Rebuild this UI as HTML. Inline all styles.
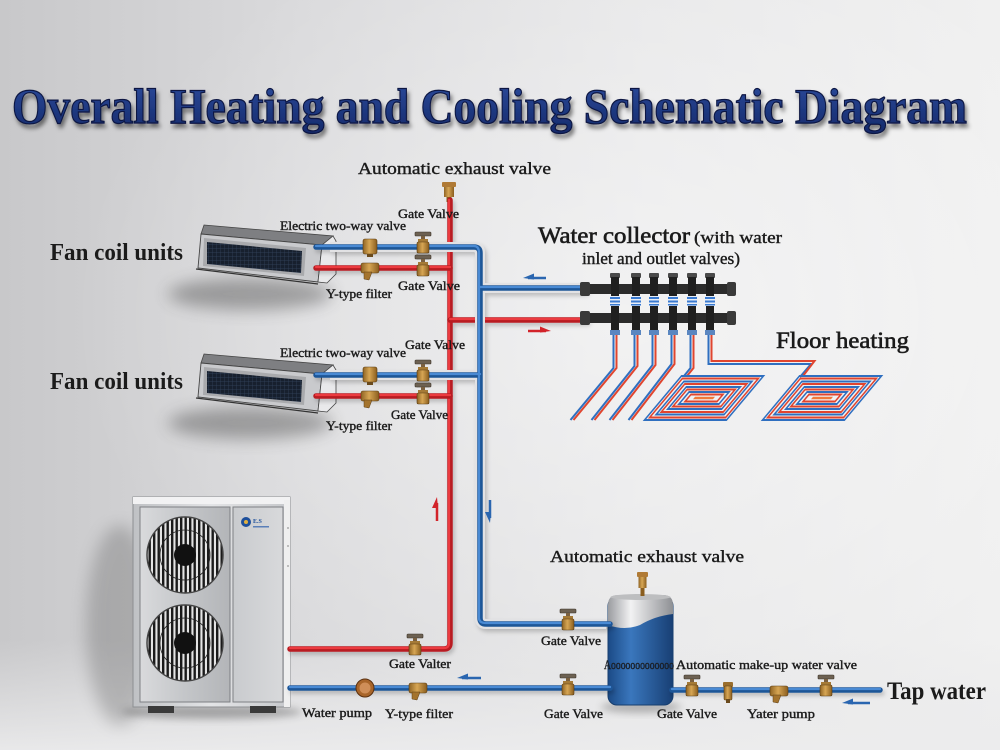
<!DOCTYPE html>
<html><head><meta charset="utf-8"><style>
html,body{margin:0;padding:0;width:1000px;height:750px;overflow:hidden;background:#e3e3e5}
svg{display:block}
text{font-family:"Liberation Serif",serif;fill:#1b1b1b}
.s{font-size:13px;stroke:#1b1b1b;stroke-width:0.4}
.m{font-size:17px;stroke:#1b1b1b;stroke-width:0.4}
.b{font-size:24px;font-weight:bold}
.ro{fill:none;stroke:#b81b21;stroke-width:5.5;stroke-linecap:round;stroke-linejoin:round}
.ri{fill:none;stroke:#ec3a3f;stroke-width:2.2;stroke-linecap:round;stroke-linejoin:round}
.bh{fill:none;stroke:#e2e2e4;stroke-width:10;stroke-linejoin:round}
.bo{fill:none;stroke:#1f5697;stroke-width:5.5;stroke-linecap:round;stroke-linejoin:round}
.bi{fill:none;stroke:#4a8ad4;stroke-width:2.2;stroke-linecap:round;stroke-linejoin:round}
.fb{fill:none;stroke:#2f6fc0;stroke-width:2}
.fr{fill:none;stroke:#e0452f;stroke-width:2}
</style></head><body>
<svg width="1000" height="750" viewBox="0 0 1000 750" xmlns="http://www.w3.org/2000/svg">
<defs>
 <linearGradient id="bg" x1="0" y1="0" x2="1" y2="0">
  <stop offset="0" stop-color="#c8c8ca"/>
  <stop offset="0.3" stop-color="#dadadc"/>
  <stop offset="0.65" stop-color="#e8e8e9"/>
  <stop offset="1" stop-color="#f0f0f0"/>
 </linearGradient>
 <radialGradient id="glow" cx="0.62" cy="0.42" r="0.55">
  <stop offset="0" stop-color="#fff" stop-opacity="0.45"/>
  <stop offset="1" stop-color="#fff" stop-opacity="0"/>
 </radialGradient>
 <linearGradient id="floor" x1="0" y1="0" x2="0" y2="1">
  <stop offset="0" stop-color="#e8e8e9" stop-opacity="0"/>
  <stop offset="1" stop-color="#ececed" stop-opacity="0.9"/>
 </linearGradient>
 <filter id="blur8" x="-50%" y="-50%" width="200%" height="200%"><feGaussianBlur stdDeviation="8"/></filter>
 <filter id="blur4" x="-50%" y="-50%" width="200%" height="200%"><feGaussianBlur stdDeviation="4"/></filter>
 <filter id="psh" x="-5%" y="-5%" width="110%" height="110%"><feDropShadow dx="2" dy="3" stdDeviation="2" flood-color="#000" flood-opacity="0.2"/></filter>
 <filter id="tsh" x="-2%" y="-30%" width="104%" height="160%"><feDropShadow dx="2" dy="4" stdDeviation="2" flood-color="#000" flood-opacity="0.5"/></filter>
 <linearGradient id="title" x1="0" y1="0" x2="0" y2="1">
  <stop offset="0" stop-color="#2d4d9e"/>
  <stop offset="1" stop-color="#14296a"/>
 </linearGradient>
 <linearGradient id="brass" x1="0" y1="0" x2="1" y2="0">
  <stop offset="0" stop-color="#8f6424"/>
  <stop offset="0.45" stop-color="#d7a654"/>
  <stop offset="1" stop-color="#8a5d1e"/>
 </linearGradient>
 <linearGradient id="hp" x1="0" y1="0" x2="1" y2="0">
  <stop offset="0" stop-color="#bfc1c4"/>
  <stop offset="0.5" stop-color="#e3e4e6"/>
  <stop offset="1" stop-color="#c6c8cb"/>
 </linearGradient>
 <linearGradient id="hpL" x1="0" y1="0" x2="1" y2="0">
  <stop offset="0" stop-color="#d9dadc"/>
  <stop offset="0.5" stop-color="#c4c6c9"/>
  <stop offset="1" stop-color="#b3b5b8"/>
 </linearGradient>
 <linearGradient id="hpR" x1="0" y1="0" x2="1" y2="0">
  <stop offset="0" stop-color="#c9cbce"/>
  <stop offset="1" stop-color="#d8d9db"/>
 </linearGradient>
 <linearGradient id="tankB" x1="0" y1="0" x2="1" y2="0">
  <stop offset="0" stop-color="#1b4a86"/>
  <stop offset="0.35" stop-color="#3a77bd"/>
  <stop offset="1" stop-color="#183f74"/>
 </linearGradient>
 <linearGradient id="tankS" x1="0" y1="0" x2="1" y2="0">
  <stop offset="0" stop-color="#9a9ca0"/>
  <stop offset="0.35" stop-color="#f2f2f3"/>
  <stop offset="1" stop-color="#8e9094"/>
 </linearGradient>
 <pattern id="grill" width="4.5" height="4" patternUnits="userSpaceOnUse">
  <rect width="4.5" height="4" fill="#e4e4e4"/><rect width="2.4" height="4" fill="#1a1a1a"/>
 </pattern>
 <pattern id="mesh" width="4" height="4" patternUnits="userSpaceOnUse">
  <rect width="4" height="4" fill="#17202e"/><path d="M0,0H4M0,0V4" stroke="#34445e" stroke-width="0.7"/>
 </pattern>
 <g id="gv">
  <rect x="-8" y="-15" width="16" height="4" rx="1" fill="#6d6152" stroke="#3d342a" stroke-width="0.6"/>
  <rect x="-2" y="-11" width="4" height="4" fill="#7a6040"/>
  <rect x="-5" y="-8" width="10" height="3" fill="#a57a36"/>
  <rect x="-6" y="-5" width="12" height="11" rx="1.5" fill="url(#brass)" stroke="#5b3c12" stroke-width="0.6"/>
 </g>
 <g id="yf">
  <rect x="-9" y="-5" width="18" height="10" rx="2" fill="url(#brass)" stroke="#5b3c12" stroke-width="0.6"/>
  <path d="M-6,4 L2,4 L-1,12 L-6,11 Z" fill="#a4742e" stroke="#5b3c12" stroke-width="0.5"/>
 </g>
 <g id="ev">
  <rect x="-7" y="-8" width="14" height="15" rx="2" fill="url(#brass)" stroke="#5b3c12" stroke-width="0.6"/>
  <rect x="-3" y="7" width="6" height="3" fill="#6a4a1c"/>
 </g>
 <g id="riser">
  <rect x="-5" y="273" width="10" height="5" rx="1" fill="#4a4a4a"/>
  <rect x="-4" y="277" width="8" height="58" fill="#1f1f1f"/>
  <rect x="-5" y="296" width="10" height="10" fill="#e8eef8"/>
  <rect x="-5" y="297" width="10" height="2" fill="#3a7ad0"/>
  <rect x="-5" y="300.5" width="10" height="2" fill="#3a7ad0"/>
  <rect x="-5" y="304" width="10" height="1.5" fill="#3a7ad0"/>
  <rect x="-5" y="330" width="10" height="5" fill="#5a86c0"/>
 </g>
 <g id="spiral">
  <rect x="-41" y="-22" width="82" height="44" class="fb"/>
  <rect x="-38" y="-19.5" width="76" height="39" class="fr"/>
  <rect x="-34" y="-16.5" width="68" height="33" class="fb"/>
  <rect x="-31" y="-14" width="62" height="28" class="fr"/>
  <rect x="-27" y="-11" width="54" height="22" class="fb"/>
  <rect x="-24" y="-8.5" width="48" height="17" class="fr"/>
  <rect x="-20" y="-6" width="40" height="12" class="fb"/>
  <rect x="-16" y="-3.5" width="32" height="7" class="fr"/>
  <rect x="-10" y="-1.2" width="20" height="2.4" fill="#f07a3a"/>
 </g>
 <g id="fcu">
  <ellipse cx="250" cy="294" rx="82" ry="16" fill="#3a3a3a" opacity="0.4" filter="url(#blur8)"/>
  <polygon points="204,225 333,236 322,245 201,234" fill="#7e7f82" stroke="#444" stroke-width="0.8"/>
  <polygon points="201,234 322,245 318,282 198,268" fill="#c9cacd" stroke="#444" stroke-width="0.9"/>
  <polygon points="204,238 306,248 304,276 203,266" fill="#a9aaad"/>
  <polygon points="207,242 302,251 301,273 207,264" fill="url(#mesh)"/>
  <path d="M322,245 L333,236 L336,241 L336,274 L327,283 L318,282 Z" fill="#e9e9eb" stroke="#444" stroke-width="0.8"/>
  <line x1="196" y1="269" x2="318" y2="284" stroke="#333" stroke-width="1.2"/>
 </g>
</defs>

<!-- background -->
<rect width="1000" height="750" fill="url(#bg)"/>
<rect width="1000" height="750" fill="url(#glow)"/>
<rect y="640" width="1000" height="110" fill="url(#floor)"/>

<!-- title -->
<text x="12" y="123" font-size="50" font-weight="bold" textLength="955" lengthAdjust="spacingAndGlyphs" style="fill:url(#title);stroke:#0b1743;stroke-width:1.2" filter="url(#tsh)">Overall Heating and Cooling Schematic Diagram</text>

<!-- fan coil units -->
<use href="#fcu"/>
<use href="#fcu" transform="translate(0,129)"/>

<!-- heat pump -->
<ellipse cx="120" cy="625" rx="34" ry="100" fill="#4a4a4a" opacity="0.28" filter="url(#blur8)"/>
<ellipse cx="212" cy="712" rx="90" ry="7" fill="#333" opacity="0.35" filter="url(#blur4)"/>
<rect x="133" y="497" width="157" height="210" fill="url(#hp)" stroke="#8d8f92"/>
<rect x="133" y="497" width="157" height="7" fill="#f2f2f3"/>
<rect x="140" y="507" width="90" height="195" fill="url(#hpL)" stroke="#7e8084"/>
<rect x="233" y="507" width="50" height="195" fill="url(#hpR)" stroke="#7e8084"/>
<rect x="284" y="500" width="6" height="207" fill="#efefef"/>
<line x1="287" y1="528" x2="289" y2="528" stroke="#888"/>
<line x1="287" y1="546" x2="289" y2="546" stroke="#888"/>
<line x1="287" y1="566" x2="289" y2="566" stroke="#888"/>
<circle cx="185" cy="555" r="38" fill="url(#grill)" stroke="#444" stroke-width="1.5"/>
<circle cx="185" cy="555" r="25" fill="none" stroke="#222" stroke-width="0.8"/>
<circle cx="185" cy="555" r="11" fill="#111"/>
<circle cx="185" cy="643" r="38" fill="url(#grill)" stroke="#444" stroke-width="1.5"/>
<circle cx="185" cy="643" r="25" fill="none" stroke="#222" stroke-width="0.8"/>
<circle cx="185" cy="643" r="11" fill="#111"/>
<circle cx="246" cy="522" r="5" fill="#1d4f9b"/>
<circle cx="246" cy="522" r="2" fill="#e0b040"/>
<text x="253" y="523" font-size="6" font-weight="bold" style="fill:#1d4f9b">E.S</text>
<rect x="253" y="526" width="16" height="1.5" fill="#5a7fb8"/>
<rect x="148" y="706" width="26" height="7" fill="#3a3a3a"/>
<rect x="250" y="706" width="26" height="7" fill="#3a3a3a"/>

<!-- tank -->
<ellipse cx="641" cy="707" rx="40" ry="6" fill="#444" opacity="0.35" filter="url(#blur4)"/>
<rect x="608" y="597" width="65" height="108" rx="9" fill="url(#tankB)" stroke="#173e6e"/>
<path d="M608,625 V605 Q608,595 618,595 H663 Q673,595 673,605 V614 Q655,616 640,625 Q625,631 608,625 Z" fill="url(#tankS)"/>
<ellipse cx="640.5" cy="597" rx="30" ry="3" fill="#bdbec0"/>
<rect x="637" y="572" width="11" height="5" rx="1" fill="#b07a35"/>
<rect x="638.5" y="577" width="8" height="11" fill="url(#brass)"/>
<rect x="640.5" y="588" width="4" height="8" fill="#8a5d1e"/>

<!-- top exhaust valve -->
<rect x="442" y="182" width="14" height="5" rx="1" fill="#b07a35"/>
<rect x="444" y="187" width="10" height="10" fill="url(#brass)"/>
<rect x="446.5" y="197" width="5" height="5" fill="#8a5d1e"/>

<!-- pipes -->
<g filter="url(#psh)">
 <path class="ro" d="M290,649 H444 Q450,649 450,643 V200"/>
 <path class="ri" d="M290,648 H444 Q449,648 449,643 V200"/>
 <path class="ro" d="M316,268 H450 M316,396 H450 M450,320 H586"/>
 <path class="ri" d="M316,267 H450 M316,395 H450 M450,319 H586"/>
 <path class="bh" d="M330,247 H474 Q480,247 480,253 V618 Q480,624 486,624 H606 M330,375 H480 M480,288 H586"/>
 <path class="bo" d="M316,247 H474 Q480,247 480,253 V618 Q480,624 486,624 H610 M316,375 H480 M480,288 H586"/>
 <path class="bi" d="M316,246 H474 Q479,246 479,253 V618 Q479,623 486,623 H610 M316,374 H480 M480,287 H586"/>
 <path class="bo" d="M290,688 H610 M672,690 H880"/>
 <path class="bi" d="M290,687 H610 M672,689 H880"/>
</g>

<!-- manifold -->
<rect x="585" y="284" width="148" height="10" rx="3" fill="#2b2b2b"/>
<rect x="580" y="282" width="10" height="14" rx="2" fill="#3a3a3a"/>
<rect x="727" y="282" width="9" height="14" rx="2" fill="#3a3a3a"/>
<rect x="585" y="313" width="148" height="10" rx="3" fill="#2b2b2b"/>
<rect x="580" y="311" width="10" height="14" rx="2" fill="#3a3a3a"/>
<rect x="727" y="311" width="9" height="14" rx="2" fill="#3a3a3a"/>
<use href="#riser" transform="translate(615,0)"/>
<use href="#riser" transform="translate(636,0)"/>
<use href="#riser" transform="translate(654,0)"/>
<use href="#riser" transform="translate(673,0)"/>
<use href="#riser" transform="translate(692,0)"/>
<use href="#riser" transform="translate(710,0)"/>

<!-- floor heating loops -->
<path class="fb" d="M613.5,335 V368 L570.5,420 M634.5,335 V366 L591.5,420 M652.5,335 V365 L609.5,420 M671.5,335 V364 L628.5,420 M690.5,335 V368 L684,376 M708.5,335 V364 H811 L800,377"/>
<path class="fr" d="M616.5,335 V368 L573.5,420 M637.5,335 V366 L594.5,420 M655.5,335 V365 L612.5,420 M674.5,335 V364 L631.5,420 M693.5,335 V368 L687,376 M711.5,335 V361 H814.5 L803,376"/>
<g transform="translate(704,398) skewX(-40)"><use href="#spiral"/></g>
<g transform="translate(822,398) skewX(-40)"><use href="#spiral"/></g>

<!-- valves -->
<use href="#ev" x="370" y="247"/>
<use href="#yf" x="370" y="268"/>
<use href="#gv" x="423" y="247"/>
<rect x="417" y="254" width="12" height="5" fill="#e6e6e8" stroke="#777" stroke-width="0.6"/>
<use href="#gv" x="423" y="270"/>
<use href="#ev" x="370" y="375"/>
<use href="#yf" x="370" y="396"/>
<use href="#gv" x="423" y="375"/>
<rect x="417" y="382" width="12" height="5" fill="#e6e6e8" stroke="#777" stroke-width="0.6"/>
<use href="#gv" x="423" y="398"/>
<use href="#gv" x="415" y="649"/>
<use href="#gv" x="568" y="624"/>
<use href="#gv" x="568" y="689"/>
<use href="#yf" x="418" y="688"/>
<circle cx="365" cy="688" r="9" fill="#a8652a" stroke="#5a3010"/>
<circle cx="365" cy="688" r="5.5" fill="#cf8e58"/>
<use href="#gv" x="692" y="690"/>
<rect x="723" y="682" width="10" height="5" rx="1" fill="#9a6e2c"/>
<rect x="724" y="686" width="8" height="14" rx="1" fill="url(#brass)" stroke="#5b3c12" stroke-width="0.5"/>
<rect x="726" y="699" width="4" height="4" fill="#6a4a1c"/>
<use href="#yf" x="779" y="691"/>
<use href="#gv" x="826" y="690"/>

<!-- arrows -->
<g fill="#2a66b0" stroke="#2a66b0">
 <line x1="528" y1="278" x2="546" y2="278" stroke-width="2.5"/>
 <polygon points="523,278 534,273.5 534,279.5" stroke="none"/>
 <line x1="490" y1="500" x2="490" y2="518" stroke-width="2.5"/>
 <polygon points="490,523 485,512 491,512" stroke="none"/>
 <line x1="462" y1="678" x2="481" y2="678" stroke-width="2.5"/>
 <polygon points="457,678 468,673.5 468,679.5" stroke="none"/>
 <line x1="848" y1="703" x2="870" y2="703" stroke-width="2.5"/>
 <polygon points="842,703 853,698.5 853,704.5" stroke="none"/>
</g>
<g fill="#d2232a" stroke="#d2232a">
 <line x1="528" y1="331" x2="546" y2="331" stroke-width="2.5"/>
 <polygon points="551,331 540,326.5 540,332.5" stroke="none"/>
 <line x1="437" y1="503" x2="437" y2="521" stroke-width="2.5"/>
 <polygon points="437,497 432,508 438,508" stroke="none"/>
</g>

<!-- labels -->
<text class="m" x="358" y="174" textLength="193" lengthAdjust="spacingAndGlyphs">Automatic exhaust valve</text>
<text class="b" x="50" y="260" textLength="133" lengthAdjust="spacingAndGlyphs">Fan coil units</text>
<text class="b" x="50" y="389" textLength="133" lengthAdjust="spacingAndGlyphs">Fan coil units</text>
<text class="s" x="280" y="230" textLength="126" lengthAdjust="spacingAndGlyphs">Electric two-way valve</text>
<text class="s" x="280" y="357" textLength="126" lengthAdjust="spacingAndGlyphs">Electric two-way valve</text>
<text class="s" x="398" y="218" textLength="61" lengthAdjust="spacingAndGlyphs">Gate Valve</text>
<text class="s" x="398" y="290" textLength="62" lengthAdjust="spacingAndGlyphs">Gate Valve</text>
<text class="s" x="405" y="349" textLength="60" lengthAdjust="spacingAndGlyphs">Gate Valve</text>
<text class="s" x="391" y="419" textLength="57" lengthAdjust="spacingAndGlyphs">Gate Valve</text>
<text class="s" x="326" y="298" textLength="66" lengthAdjust="spacingAndGlyphs">Y-type filter</text>
<text class="s" x="326" y="430" textLength="66" lengthAdjust="spacingAndGlyphs">Y-type filter</text>
<text x="538" y="243" font-size="23" textLength="152" lengthAdjust="spacingAndGlyphs" style="stroke:#1b1b1b;stroke-width:0.6">Water collector</text>
<text class="m" x="694" y="243" textLength="88" lengthAdjust="spacingAndGlyphs">(with water</text>
<text class="m" x="582" y="264" textLength="158" lengthAdjust="spacingAndGlyphs">inlet and outlet valves)</text>
<text x="776" y="348" font-size="23" textLength="133" lengthAdjust="spacingAndGlyphs" style="stroke:#1b1b1b;stroke-width:0.6">Floor heating</text>
<text class="m" x="550" y="562" textLength="194" lengthAdjust="spacingAndGlyphs">Automatic exhaust valve</text>
<text class="s" x="541" y="645" textLength="60" lengthAdjust="spacingAndGlyphs">Gate Valve</text>
<text class="s" x="389" y="668" textLength="62" lengthAdjust="spacingAndGlyphs">Gate Valter</text>
<text class="s" x="604" y="669" font-size="11" textLength="70" lengthAdjust="spacingAndGlyphs" style="fill:#1a2333">Aooooooooooooo</text>
<text class="s" x="676" y="669" textLength="181" lengthAdjust="spacingAndGlyphs">Automatic make-up water valve</text>
<text class="s" x="302" y="717" textLength="70" lengthAdjust="spacingAndGlyphs">Water pump</text>
<text class="s" x="385" y="718" textLength="68" lengthAdjust="spacingAndGlyphs">Y-type filter</text>
<text class="s" x="544" y="718" textLength="59" lengthAdjust="spacingAndGlyphs">Gate Valve</text>
<text class="s" x="657" y="718" textLength="60" lengthAdjust="spacingAndGlyphs">Gate Valve</text>
<text class="s" x="747" y="718" textLength="68" lengthAdjust="spacingAndGlyphs">Yater pump</text>
<text x="887" y="699" font-size="25" font-weight="bold" textLength="99" lengthAdjust="spacingAndGlyphs">Tap water</text>
</svg>
</body></html>
